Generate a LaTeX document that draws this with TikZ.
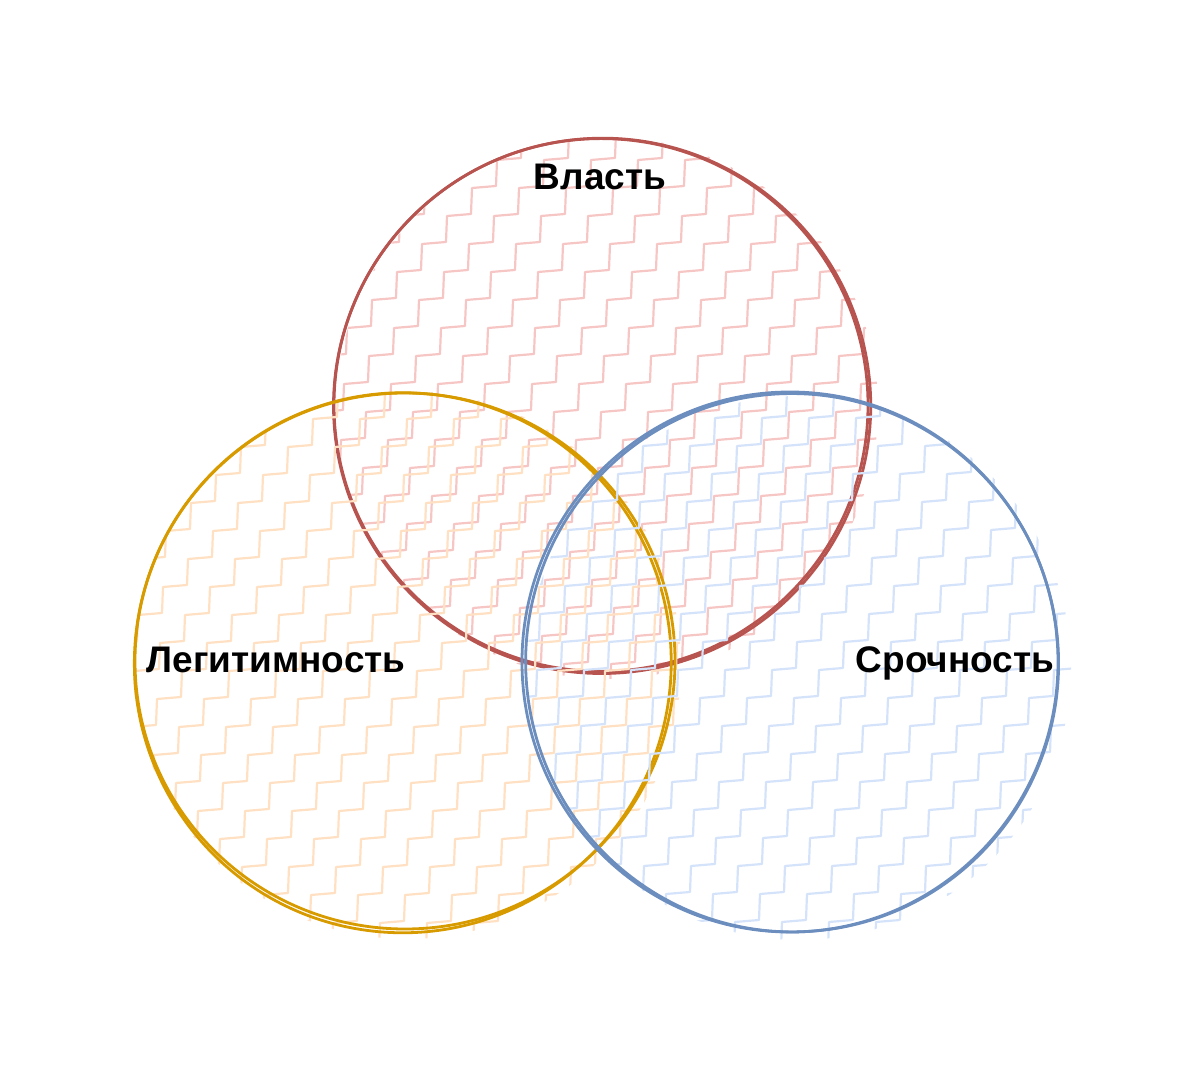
\documentclass[tikz,border=0pt]{standalone}
\usepackage{fontspec}
\setmainfont{Liberation Sans}
\definecolor{redS}{HTML}{B85450}
\definecolor{redF}{HTML}{F6C6C4}
\definecolor{yelS}{HTML}{D79B00}
\definecolor{yelF}{HTML}{FFE0C2}
\definecolor{bluS}{HTML}{6C8EBF}
\definecolor{bluF}{HTML}{D4E3FA}
\tikzset{
 hatch/.style={line width=1.1pt, line join=round, line cap=round},
 rim/.style={line width=1.4pt},
 lbl/.style={font=\bfseries\fontsize{18.5}{22}\selectfont, text=black, inner sep=0pt, anchor=base}
}
% #1 cx  #2 cy  #3 r  #4 colour  #5 phase  #6 clip dx  #7 clip dy
\newcommand\zigfill[7]{%
 \begin{scope}
 \clip ({#1+#6},{#2+#7}) circle [radius=#3*0.5pt+2pt];
 \foreach \k in {0,...,24} {
   \draw[hatch,#4] ({#1-#3-500+47*\k+#5},{#2+#3+20}) \foreach \i in {1,...,21} { -- ++(24,-2) -- ++(1,-26) };
 }
 \end{scope}}
\begin{document}
\begin{tikzpicture}[x=0.5pt,y=-0.5pt]
\useasboundingbox (0,0) rectangle (1200,1068);
% Power
\zigfill{601}{405}{267}{redF}{0}{6}{3}
\draw[rim,redS] (601,405) ellipse [x radius=133.5pt, y radius=133.2pt];
\draw[rim,redS,rotate around={8:(601,405)}] (602,406) ellipse [x radius=134.3pt, y radius=133.8pt];
% Legitimacy
\zigfill{405}{661}{270}{yelF}{15}{2}{4}
\draw[rim,yelS] (405,661) ellipse [x radius=135pt, y radius=134pt];
\draw[rim,yelS,rotate around={-6:(405,661)}] (403,663) ellipse [x radius=134.2pt, y radius=135pt];
% Urgency
\zigfill{790}{662}{268}{bluF}{30}{9}{6}
\draw[rim,bluS] (790,662) ellipse [x radius=134pt, y radius=135pt];
\draw[rim,bluS,rotate around={7:(790,662)}] (792,663) ellipse [x radius=133.2pt, y radius=134.6pt];
% labels
\node[lbl] (power) at (600,190) {Власть};
\node[lbl] (legit) at (276,673) {Легитимность};
\node[lbl] (urgent) at (955,673) {Срочность};
\end{tikzpicture}
\end{document}
